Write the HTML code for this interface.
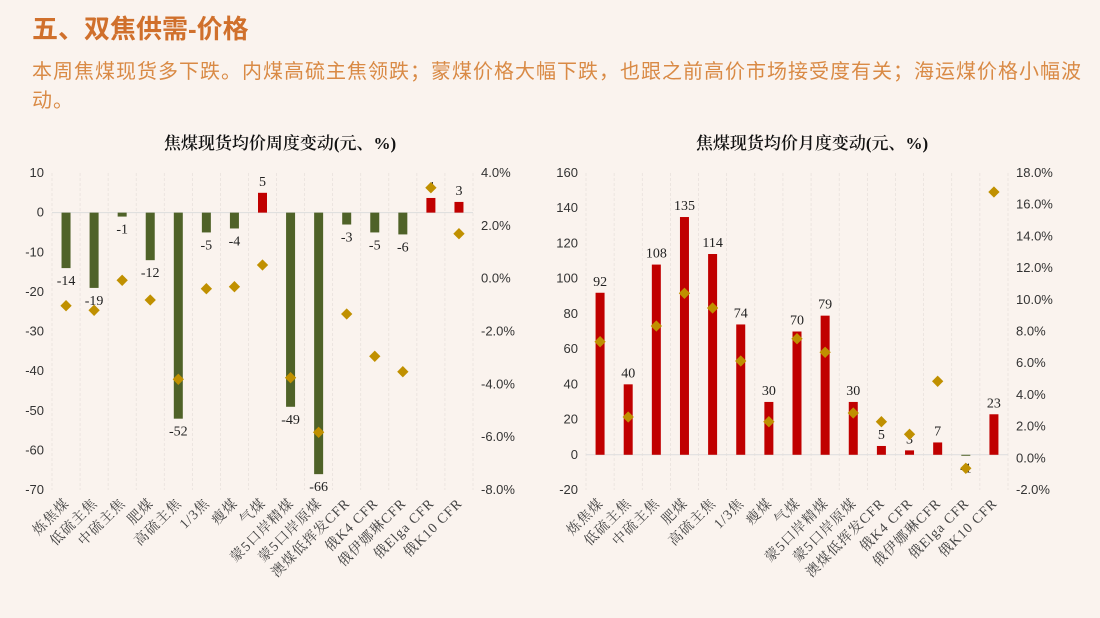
<!DOCTYPE html>
<html><head><meta charset="utf-8"><style>
body{margin:0;background:#faf3ee;}
.h{position:absolute;left:32px;top:9px;font:bold 26px "Liberation Sans","Noto Sans CJK SC",sans-serif;color:#d0702c;}
.s{position:absolute;left:32px;top:58px;width:1066px;font:20px/29px "Liberation Sans","Noto Sans CJK SC",sans-serif;color:#d98a45;letter-spacing:1.0px;}
svg{position:absolute;left:0;top:0;}
.t{font:17px "Liberation Serif","Noto Serif CJK SC",serif;font-weight:600;fill:#111;}
.ax{font:13px "Liberation Sans","Noto Sans CJK SC",sans-serif;fill:#333;}
.dl{font:14px "Liberation Serif",serif;fill:#222;}
.xl{font:14px "Liberation Serif","Noto Serif CJK SC",serif;fill:#444;letter-spacing:1px;}
</style></head><body>
<div class="h">五、双焦供需-价格</div>
<div class="s">本周焦煤现货多下跌。内煤高硫主焦领跌；蒙煤价格大幅下跌，也跟之前高价市场接受度有关；海运煤价格小幅波动。</div>
<svg id="g" width="1100" height="618" xmlns="http://www.w3.org/2000/svg"></svg>
<script>
const NS="http://www.w3.org/2000/svg",g=document.getElementById('g');
function el(n,a,t){const e=document.createElementNS(NS,n);for(const k in a)e.setAttribute(k,a[k]);if(t!==undefined)e.textContent=t;g.appendChild(e);return e;}
const cats=["炼焦煤","低硫主焦","中硫主焦","肥煤","高硫主焦","1/3焦","瘦煤","气煤","蒙5口岸精煤","蒙5口岸原煤","澳煤低挥发CFR","俄K4 CFR","俄伊娜琳CFR","俄Elga CFR","俄K10 CFR"];
function chart(o){
 const {x0,x1,yTop,yBot,vMax,vMin,step,rMax,rMin,rStep,vals,labs,dy,title,tx}=o;
 const sc=v=>yTop+(vMax-v)/(vMax-vMin)*(yBot-yTop);
 el('text',{x:tx,y:149,'text-anchor':'middle',class:'t'},title);
 const w=(x1-x0)/15;
 for(let i=0;i<=15;i++)el('line',{x1:x0+i*w,x2:x0+i*w,y1:yTop,y2:yBot,stroke:'#e6dfda','stroke-dasharray':'3,2','stroke-width':0.7});
 for(let v=vMax;v>=vMin;v-=step)el('text',{x:x0-8,y:sc(v)+4,'text-anchor':'end',class:'ax'},v);
 let n=Math.round((rMax-rMin)/rStep);
 for(let i=0;i<=n;i++){const r=rMax-i*rStep;el('text',{x:x1+8,y:yTop+i*(yBot-yTop)/n+4,class:'ax'},r.toFixed(1)+'%');}
 const z=sc(0);
 el('line',{x1:x0,x2:x1,y1:z,y2:z,stroke:'#ddd','stroke-width':1});
 vals.forEach((v,i)=>{const cx=x0+w*(i+0.5),y=sc(v);
  el('rect',{x:cx-4.5,y:Math.min(y,z),width:9,height:Math.max(Math.abs(y-z),1),fill:v>=0?'#c00000':'#4f6228'});
  const ly=v>=0?y-7:y+17;el('text',{x:cx,y:ly,'text-anchor':'middle',class:'dl'},labs[i]);
  const d=dy[i];el('rect',{x:cx-4,y:d-4,width:8,height:8,fill:'#c09000',transform:`rotate(45 ${cx} ${d})`});
  el('text',{x:cx+4,y:yBot+14,'text-anchor':'end',class:'xl',transform:`rotate(-45 ${cx+4} ${yBot+14})`},cats[i]);
 });
}
chart({x0:52,x1:473,yTop:173,yBot:490,vMax:10,vMin:-70,step:10,rMax:4,rMin:-8,rStep:2,
 vals:[-14,-19,-1,-12,-52,-5,-4,5,-49,-66,-3,-5,-5.5,3.7,2.7],labs:[-14,-19,-1,-12,-52,-5,-4,5,-49,-66,-3,-5,-6,4,3],
 dy:[305.7,310.3,280.3,300,379.3,288.7,286.7,265,377.7,432.3,314,356.3,371.7,187.7,233.7],title:'焦煤现货均价周度变动(元、%)',tx:280});
chart({x0:586,x1:1008,yTop:173,yBot:490,vMax:160,vMin:-20,step:20,rMax:18,rMin:-2,rStep:2,
 vals:[92,40,108,135,114,74,30,70,79,30,5,2.5,7,-0.4,23],labs:[92,40,108,135,114,74,30,70,79,30,5,3,7,-1,23],
 dy:[341.7,417,326,293.3,308,361,421.7,338.7,352.3,413,421.7,434.3,381.3,468.3,192],title:'焦煤现货均价月度变动(元、%)',tx:812});
</script>
</body></html>
